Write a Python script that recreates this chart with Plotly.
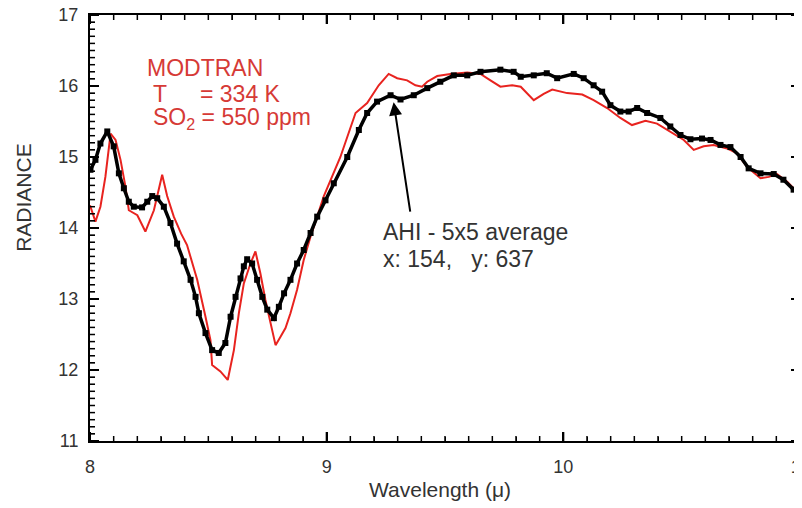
import plotly.graph_objects as go

# AHI 5x5 average (black)
ahi_wl = [8.002, 8.023, 8.044, 8.073, 8.10, 8.122, 8.143, 8.164, 8.185, 8.22, 8.242, 8.263, 8.284,
          8.312, 8.34, 8.368, 8.396, 8.425, 8.446, 8.46, 8.488, 8.516, 8.544, 8.572, 8.594, 8.615,
          8.636, 8.65, 8.664, 8.685, 8.706, 8.728, 8.749, 8.777, 8.798, 8.82, 8.847, 8.875, 8.903,
          8.932, 8.96, 8.995, 9.03, 9.087, 9.136, 9.171, 9.213, 9.27, 9.312, 9.368, 9.425, 9.48,
          9.537, 9.594, 9.65, 9.734, 9.79, 9.82, 9.875, 9.93, 9.974, 10.044, 10.086, 10.128,
          10.164, 10.199, 10.241, 10.276, 10.312, 10.354, 10.41, 10.452, 10.495, 10.537, 10.586,
          10.622, 10.664, 10.706, 10.749, 10.783, 10.833, 10.889, 10.93, 10.973, 11.0]
ahi_rad = [14.82, 14.96, 15.19, 15.36, 15.15, 14.77, 14.56, 14.37, 14.30, 14.29, 14.37, 14.45, 14.42,
           14.30, 14.07, 13.78, 13.53, 13.27, 13.03, 12.80, 12.52, 12.28, 12.24, 12.38, 12.75, 13.03,
           13.29, 13.46, 13.56, 13.50, 13.27, 13.03, 12.85, 12.73, 12.89, 13.08, 13.27, 13.50, 13.69,
           13.93, 14.16, 14.39, 14.63, 15.00, 15.38, 15.62, 15.78, 15.87, 15.81, 15.87, 15.97, 16.06,
           16.15, 16.15, 16.20, 16.23, 16.20, 16.13, 16.15, 16.18, 16.11, 16.17, 16.11, 16.01,
           15.92, 15.73, 15.64, 15.64, 15.69, 15.62, 15.55, 15.43, 15.31, 15.25, 15.26,
           15.24, 15.17, 15.14, 15.00, 14.84, 14.77, 14.76, 14.68, 14.54, 14.46]

# MODTRAN (red)
mod_wl = [8.0, 8.023, 8.044, 8.065, 8.087, 8.108, 8.129, 8.15, 8.164, 8.20, 8.234, 8.27, 8.305,
          8.326, 8.354, 8.385, 8.41, 8.453, 8.488, 8.509, 8.516, 8.551, 8.582, 8.608, 8.629, 8.65,
          8.678, 8.699, 8.72, 8.741, 8.763, 8.784, 8.805, 8.826, 8.847, 8.875, 8.903, 8.932, 8.96,
          8.988, 9.058, 9.122, 9.171, 9.22, 9.262, 9.298, 9.34, 9.375, 9.403, 9.425, 9.467, 9.523,
          9.594, 9.65, 9.692, 9.734, 9.784, 9.82, 9.875, 9.917, 9.953, 10.016, 10.08, 10.128,
          10.185, 10.241, 10.29, 10.347, 10.396, 10.452, 10.509, 10.551, 10.593, 10.635, 10.692,
          10.734, 10.777, 10.833, 10.868, 10.903, 10.946, 10.994]
mod_rad = [14.32, 14.09, 14.30, 14.72, 15.33, 15.24, 14.96, 14.58, 14.25, 14.18, 13.95, 14.25, 14.75,
           14.45, 14.16, 13.92, 13.76, 13.27, 12.75, 12.42, 12.07, 11.98, 11.86, 12.28, 12.80, 13.22,
           13.50, 13.67, 13.36, 12.99, 12.66, 12.35, 12.47, 12.59, 12.80, 13.13, 13.55, 13.88, 14.16,
           14.45, 15.00, 15.62, 15.76, 16.01, 16.17, 16.11, 16.08, 16.01, 15.99, 16.06, 16.14, 16.17,
           16.19, 16.17, 16.08, 15.99, 16.01, 15.99, 15.80, 15.89, 15.95, 15.90, 15.88, 15.80,
           15.69, 15.55, 15.45, 15.51, 15.47, 15.36, 15.24, 15.10, 15.15, 15.17, 15.12,
           15.05, 14.86, 14.70, 14.72, 14.76, 14.65, 14.49]

x_major = [8, 9, 10, 11]
y_major = [11, 12, 13, 14, 15, 16, 17]

FONT = "Arial, Liberation Sans, sans-serif"
RED_TXT = "#d63a36"
GRAY = "#333333"

fig = go.Figure()
fig.add_trace(go.Scatter(x=mod_wl, y=mod_rad, mode="lines",
                         line=dict(color="#e8231f", width=2), showlegend=False))
fig.add_trace(go.Scatter(x=ahi_wl, y=ahi_rad, mode="lines+markers",
                         line=dict(color="black", width=3.5),
                         marker=dict(symbol="square", size=6, color="black"),
                         showlegend=False))

axis_common = dict(showgrid=False, zeroline=False, showline=True, linecolor="black", linewidth=2,
                   mirror="allticks", ticks="inside", ticklen=9, tickwidth=2, tickcolor="black",
                   automargin=False, ticklabeloverflow="allow",
                   tickmode="array", tickfont=dict(family=FONT, size=18, color=GRAY))
fig.update_xaxes(range=[8, 11], tickvals=x_major, ticktext=[str(v) for v in x_major],
                 ticklabelstandoff=8,
                 minor=dict(dtick=0.1, ticks="inside", ticklen=4.5, tickcolor="black", tickwidth=1.3),
                 **axis_common)
fig.update_yaxes(range=[11, 17], tickvals=y_major, ticktext=[str(v) for v in y_major],
                 ticklabelstandoff=6,
                 minor=dict(dtick=0.1, ticks="inside", ticklen=4.5, tickcolor="black", tickwidth=1.3),
                 **axis_common)

# inward tick marks on all four sides (major every 1, minor every 0.1)
PW, PH = 710.0, 426.0
shapes = []
def xtick(v, ln, w):
    f = ln / PH
    shapes.append(dict(type="line", xref="x", yref="paper", x0=v, x1=v, y0=0, y1=f,
                       line=dict(color="black", width=w), layer="above"))
    shapes.append(dict(type="line", xref="x", yref="paper", x0=v, x1=v, y0=1 - f, y1=1,
                       line=dict(color="black", width=w), layer="above"))
def ytick(v, ln, w):
    f = ln / PW
    shapes.append(dict(type="line", xref="paper", yref="y", x0=0, x1=f, y0=v, y1=v,
                       line=dict(color="black", width=w), layer="above"))
    shapes.append(dict(type="line", xref="paper", yref="y", x0=1 - f, x1=1, y0=v, y1=v,
                       line=dict(color="black", width=w), layer="above"))

for i in range(x_major[0] * 10, x_major[-1] * 10 + 1):
    v = i / 10
    if i % 10 == 0:
        xtick(v, 9, 2)
    else:
        xtick(v, 5, 1.5)
for i in range(y_major[0] * 10, y_major[-1] * 10 + 1):
    v = i / 10
    if i % 10 == 0:
        ytick(v, 9, 2)
    else:
        ytick(v, 5, 1.5)

ann = []
ann.append(dict(text="RADIANCE", xref="paper", yref="paper", x=-0.093, y=0.573, textangle=-90,
                xanchor="center", yanchor="middle",
                showarrow=False, font=dict(family=FONT, size=21, color=GRAY)))
ann.append(dict(text="Wavelength (\u03bc)", xref="paper", yref="paper", x=0.493, y=-0.115,
                xanchor="center", yanchor="middle",
                showarrow=False, font=dict(family=FONT, size=21, color=GRAY)))
ann.append(dict(text="MODTRAN", x=8.234, y=16.254, xanchor="left", showarrow=False,
                font=dict(family=FONT, size=23, color=RED_TXT)))
ann.append(dict(text="T", x=8.258, y=15.894, xanchor="left", showarrow=False,
                font=dict(family=FONT, size=23, color=RED_TXT)))
ann.append(dict(text="= 334 K", x=8.455, y=15.894, xanchor="left", showarrow=False,
                font=dict(family=FONT, size=23, color=RED_TXT)))
ann.append(dict(text="SO<sub>2</sub> = 550 ppm", x=8.258, y=15.54, xanchor="left", showarrow=False,
                font=dict(family=FONT, size=23, color=RED_TXT)))
ann.append(dict(text="AHI - 5x5 average", x=9.228, y=13.937, xanchor="left", showarrow=False,
                font=dict(family=FONT, size=23, color=GRAY)))
ann.append(dict(text="x: 154,   y: 637", x=9.228, y=13.563, xanchor="left", showarrow=False,
                font=dict(family=FONT, size=23, color=GRAY)))
ann.append(dict(text="", x=9.283, y=15.77, ax=9.354, ay=14.21, axref="x", ayref="y",
                showarrow=True, arrowhead=2, arrowsize=1.3, arrowwidth=2, arrowcolor="black"))

# page body has an 8px default margin, so the figure is offset by 8px
fig.update_layout(width=802, height=508, margin=dict(l=82, r=10, t=7, b=75),
                  plot_bgcolor="white", paper_bgcolor="white", annotations=ann, shapes=shapes,
                  font=dict(family=FONT, color=GRAY), template="none")

fig.write_html("out.html")
